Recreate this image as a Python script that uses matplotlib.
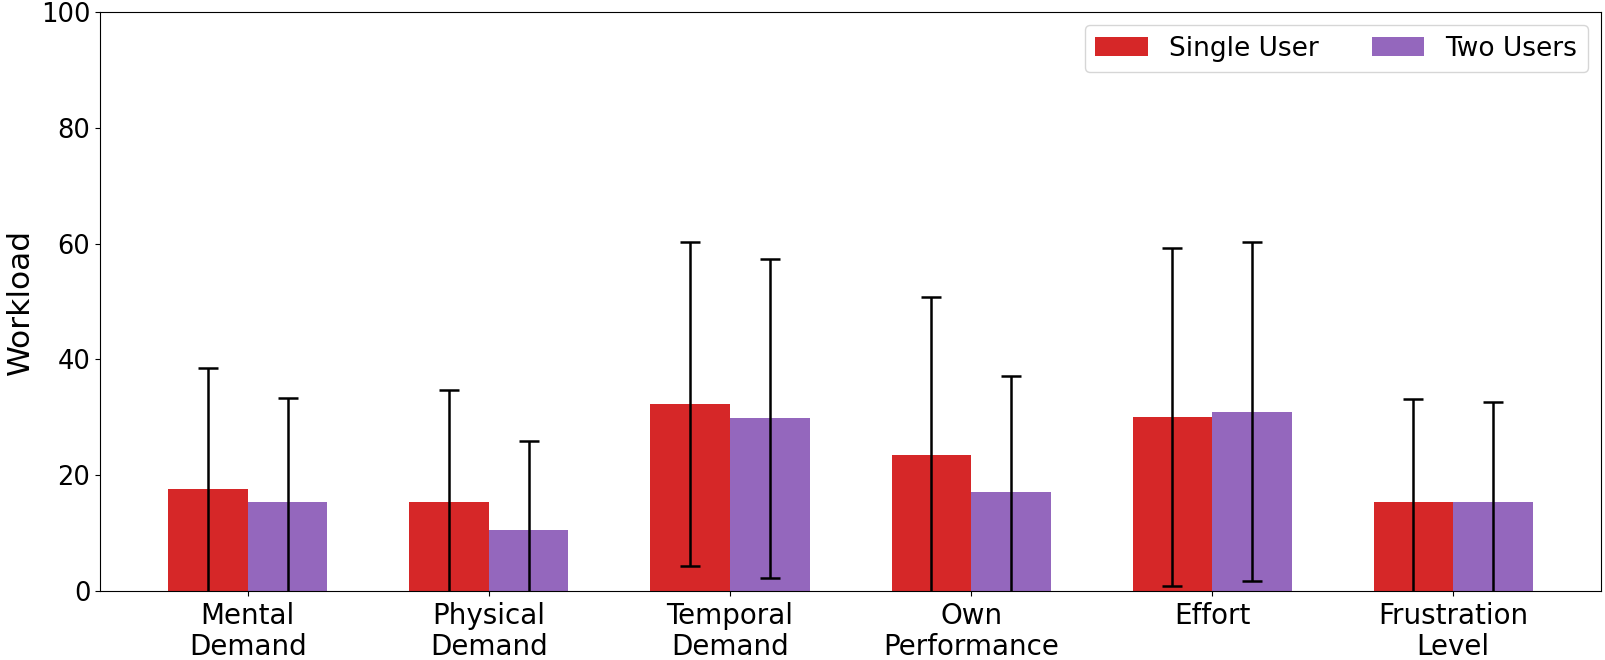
import numpy as np
import matplotlib.pyplot as plt

categories = ['Mental\nDemand', 'Physical\nDemand', 'Temporal\nDemand',
              'Own\nPerformance', 'Effort', 'Frustration\nLevel']
single_mean = [17.7, 15.3, 32.3, 23.5, 30.1, 15.4]
single_std = [20.9, 19.5, 27.9, 27.2, 29.2, 17.7]
two_mean = [15.3, 10.6, 29.8, 17.1, 31.0, 15.4]
two_std = [18.0, 15.3, 27.5, 20.1, 29.2, 17.2]

x = np.arange(len(categories))
w = 0.33

fig, ax = plt.subplots(figsize=(16.06, 6.6), dpi=100)
fig.subplots_adjust(left=0.0623, right=0.9969, top=0.9818, bottom=0.1045)

err = dict(ecolor='black', elinewidth=1.8, capsize=7, capthick=1.8)
ax.bar(x - w / 2, single_mean, w, yerr=single_std, color='#d62728',
       label='Single User', error_kw=err)
ax.bar(x + w / 2, two_mean, w, yerr=two_std, color='#9467bd',
       label='Two Users', error_kw=err)

ax.set_ylim(0, 100)
ax.set_xticks(x)
ax.set_xticklabels(categories, fontsize=20, linespacing=1.15)
ax.tick_params(axis='x', pad=4.5)
ax.tick_params(axis='y', labelsize=18.5)
ax.set_ylabel('Workload', fontsize=22.5)
ax.legend(loc='upper right', ncol=2, fontsize=19)

plt.savefig('out.png')
